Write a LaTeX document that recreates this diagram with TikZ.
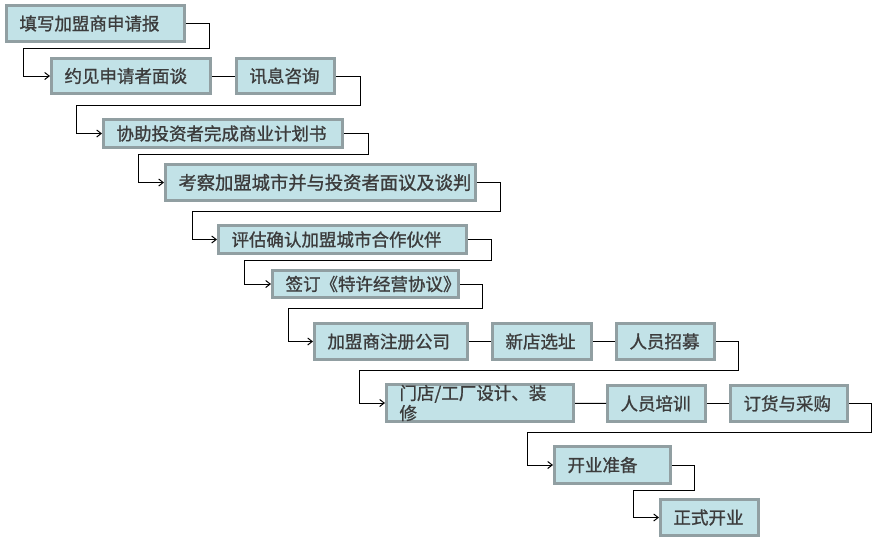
\documentclass[tikz,border=0pt]{standalone}
\usepackage{fontspec}
\newfontfamily\cjk[FakeBold=1.1]{Noto Sans CJK SC}
\usepackage{xcolor}
\usepackage{tikz}
\usetikzlibrary{arrows.meta}

\definecolor{boxfill}{HTML}{C2E2E7}
\definecolor{boxedge}{HTML}{919FA2}
\definecolor{boxtext}{HTML}{3C3C3C}

\tikzset{
  flowbox/.style={draw=boxedge, fill=boxfill, line width=3pt, anchor=north west,
    inner xsep=13pt, inner ysep=0pt, align=left, text=boxtext,
    font=\cjk\fontsize{17.5}{20}\selectfont},
  link/.style={line width=1pt, black, -{Straight Barb[length=4.5pt, width=7pt]}},
  plainlink/.style={line width=1pt, black},
}

\begin{document}
\begin{tikzpicture}[x=1pt, y=-1pt]
             \useasboundingbox (0,0) rectangle (878,539);

             % boxes, placed by their upper left corner
             \node[flowbox, text width=152pt, minimum height=36pt] (apply) at (5,4) {填写加盟商申请报};
             \node[flowbox, text width=133pt, minimum height=35pt] (meet) at (50,57) {约见申请者面谈};
             \node[flowbox, text width=72pt, minimum height=35pt] (inform) at (235,57) {讯息咨询};
             \node[flowbox, text width=213pt, minimum height=28pt] (plan) at (102,118) {协助投资者完成商业计划书};
             \node[flowbox, text width=284pt, minimum height=36pt,
                   font=\cjk\fontsize{18.3}{20}\selectfont] (visit) at (164,163) {考察加盟城市并与投资者面议及谈判};
             \node[flowbox, text width=222pt, minimum height=28pt] (confirm) at (217,224) {评估确认加盟城市合作伙伴};
             \node[flowbox, text width=160pt, minimum height=27pt] (sign) at (271,269) {签订《特许经营协议》};
             \node[flowbox, text width=127pt, minimum height=36pt] (register) at (313,322) {加盟商注册公司};
             \node[flowbox, text width=73pt, minimum height=36pt] (site) at (491,322) {新店选址};
             \node[flowbox, text width=72pt, minimum height=36pt] (hire) at (615,322) {人员招募};
             \node[flowbox, text width=161pt, minimum height=37pt] (design) at (385,383) {门店/工厂设计、装\\修};
             \node[flowbox, text width=72pt, minimum height=36pt] (train) at (606,384) {人员培训};
             \node[flowbox, text width=91pt, minimum height=36pt] (order) at (729,384) {订货与采购};
             \node[flowbox, text width=90pt, minimum height=37pt] (prepare) at (553,445) {开业准备};
             \node[flowbox, text width=72pt, minimum height=36pt] (open) at (659,498) {正式开业};

             % straight links in a row
             \draw[plainlink] (meet) -- (inform);
             \draw[plainlink] (register) -- (site);
             \draw[plainlink] (site) -- (hire);
             \draw[plainlink] (design) -- (train);
             \draw[plainlink] (train) -- (order);

             % links down to the next row
             \draw[link] (apply.east) -| (209,48) -- (23,48) |- (meet.west);
             \draw[link] (inform.east) -| (360,105) -- (76,105) |- (plan.west);
             \draw[link] (plan.east) -| (368,154) -- (138,154) |- (visit.west);
             \draw[link] (visit.east) -| (500,211) -- (192,211) |- (confirm.west);
             \draw[link] (confirm.east) -| (491,260) -- (244,260) |- (sign.west);
             \draw[link] (sign.east) -| (482,308) -- (288,308) |- (register.west);
             \draw[link] (hire.east) -| (738,370) -- (359,370) |- (design.west);
             \draw[link] (order.east) -| (871,432) -- (527,432) |- (prepare.west);
             \draw[link] (prepare.east) -| (694,490) -- (633,490) |- (open.west);
             \end{tikzpicture}
\end{document}
